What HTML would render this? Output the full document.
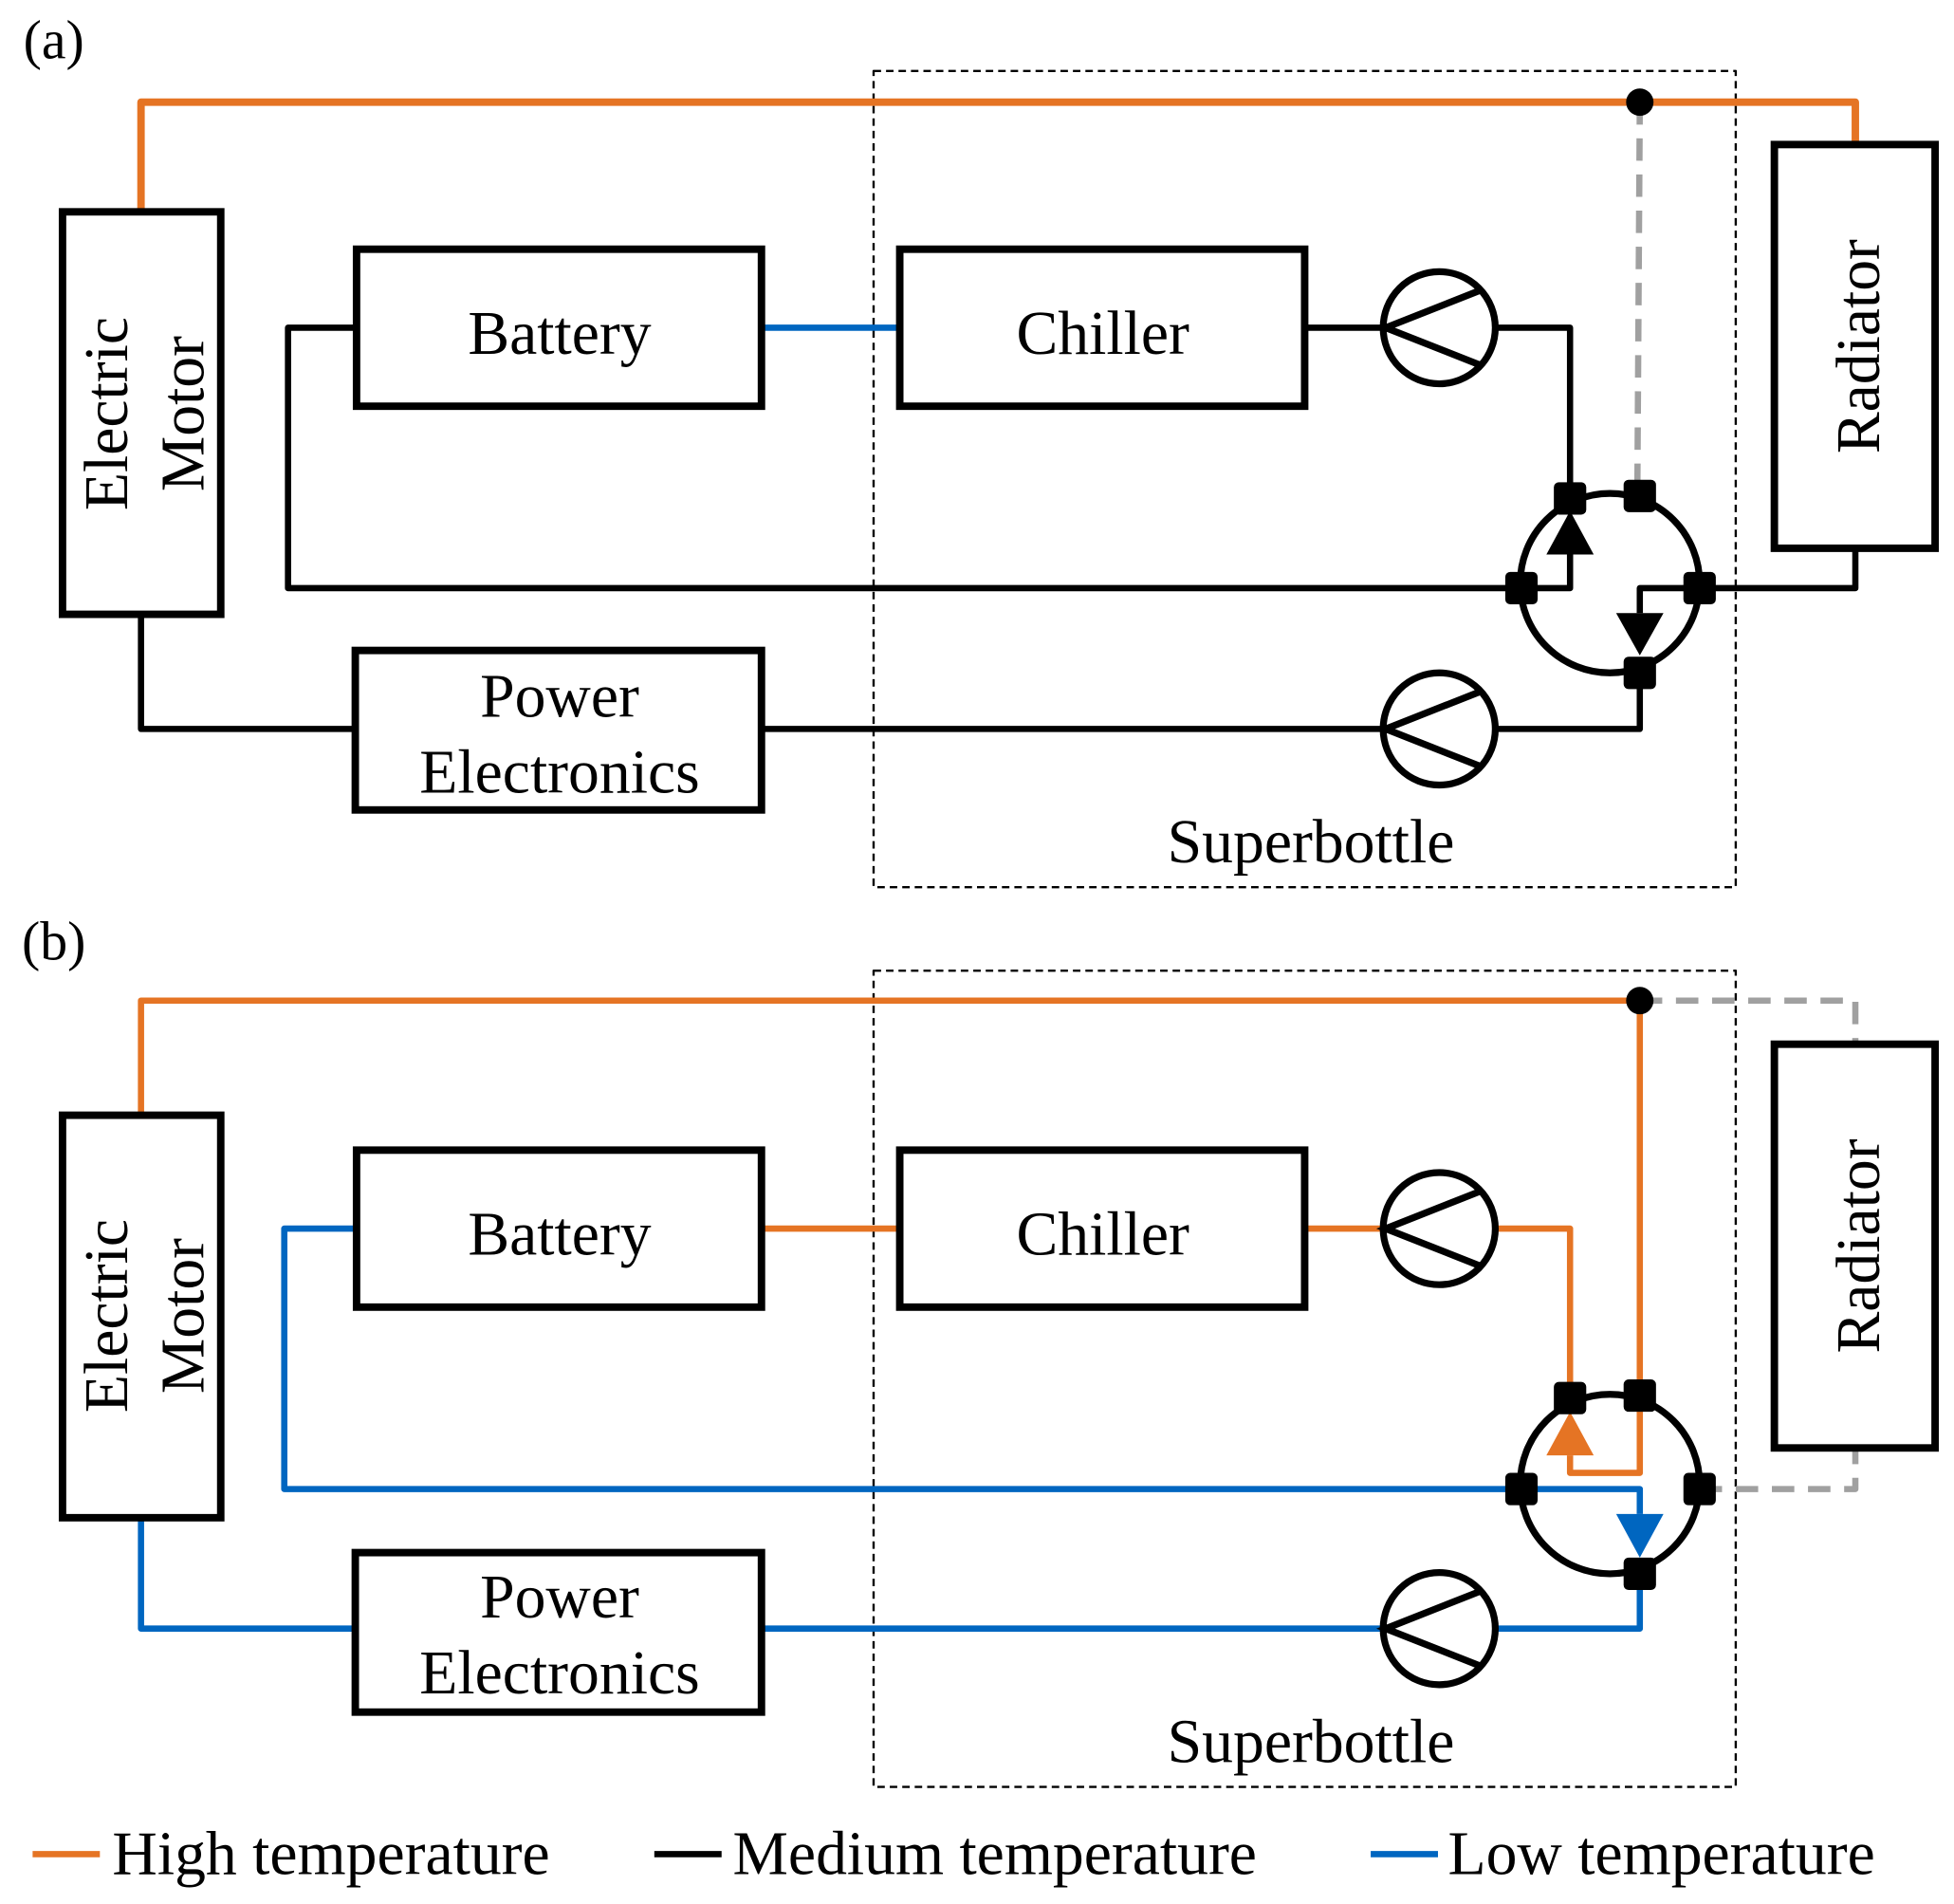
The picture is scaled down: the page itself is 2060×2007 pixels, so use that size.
<!DOCTYPE html>
<html><head><meta charset="utf-8"><style>html,body{margin:0;padding:0;background:#fff}svg{display:block}</style></head>
<body>
<svg width="2060" height="2007" viewBox="0 0 1568 1528" xmlns="http://www.w3.org/2000/svg" font-family="'Liberation Serif', serif">
<defs>
<g id="pump">
<circle cx="0" cy="0" r="45" fill="#fff" stroke="#000" stroke-width="5.5"/>
<path d="M33 -30 L-43 0 L33 30" fill="none" stroke="#000" stroke-width="5.5"/>
</g>
<rect id="port" x="-13" y="-13" width="26" height="26" rx="4" fill="#000"/>
</defs>
<rect width="1568" height="1528" fill="#fff"/>
<g fill="none" stroke-linejoin="round">
<rect x="701" y="57" width="692" height="655" stroke="#000" stroke-width="1.8" stroke-dasharray="6 4"/>
<path d="M113 170 V82 H1489 V116" stroke="#E57424" stroke-width="6"/>
<path d="M1316 82 L1314 398" stroke="#A0A0A0" stroke-width="5" stroke-dasharray="18 11"/>
<path d="M611 263 H722" stroke="#0066C0" stroke-width="5"/>
<g stroke="#000" stroke-width="5">
<path d="M286 263 H231 V472 H1260 V445"/>
<path d="M1047 263 H1110 M1200 263 H1260 V400"/>
<path d="M113 493 V585 H285"/>
<path d="M611 585 H1110 M1200 585 H1316 V540"/>
<path d="M1489 440 V472 H1316 V492"/>
</g>
<circle cx="1292" cy="468" r="72" stroke="#000" stroke-width="5.5"/>
<rect x="701" y="779" width="692" height="655" stroke="#000" stroke-width="1.8" stroke-dasharray="6 4"/>
<path d="M113 893 V803 H1316 V1182 H1260 V1168" stroke="#E57424" stroke-width="5"/>
<path d="M1316 803 H1489 V838 M1364 1195 H1489 V1162" stroke="#A0A0A0" stroke-width="5" stroke-dasharray="18 11"/>
<path d="M611 986 H722 M1047 986 H1110 M1200 986 H1260 V1122" stroke="#E57424" stroke-width="5"/>
<g stroke="#0066C0" stroke-width="5">
<path d="M286 986 H228 V1195 H1316 V1215"/>
<path d="M113 1218 V1307 H285"/>
<path d="M611 1307 H1110 M1200 1307 H1316 V1262"/>
</g>
<circle cx="1292" cy="1191" r="72" stroke="#000" stroke-width="5.5"/>
</g>
<g fill="#fff" stroke="#000" stroke-width="6">
<rect x="50" y="170" width="127" height="323"/>
<rect x="286" y="200" width="325" height="126"/>
<rect x="722" y="200" width="325" height="126"/>
<rect x="285" y="522" width="326" height="128"/>
<rect x="1424" y="116" width="129" height="324"/>
<rect x="50" y="895" width="127" height="323"/>
<rect x="286" y="923" width="325" height="126"/>
<rect x="722" y="923" width="325" height="126"/>
<rect x="285" y="1246" width="326" height="128"/>
<rect x="1424" y="838" width="129" height="324"/>
</g>
<use href="#pump" x="1155" y="263"/>
<use href="#pump" x="1155" y="585"/>
<use href="#pump" x="1155" y="986"/>
<use href="#pump" x="1155" y="1307"/>
<path d="M1260 410 L1279 445 L1241 445 Z" fill="#000"/>
<path d="M1316 526 L1297 492 L1335 492 Z" fill="#000"/>
<path d="M1260 1133 L1279 1168 L1241 1168 Z" fill="#E57424"/>
<path d="M1316 1250 L1297 1215 L1335 1215 Z" fill="#0066C0"/>
<use href="#port" x="1260" y="400"/><use href="#port" x="1316" y="398"/>
<use href="#port" x="1221" y="472"/><use href="#port" x="1364" y="472"/>
<use href="#port" x="1316" y="540"/>
<use href="#port" x="1260" y="1122"/><use href="#port" x="1316" y="1120"/>
<use href="#port" x="1221" y="1195"/><use href="#port" x="1364" y="1195"/>
<use href="#port" x="1316" y="1263"/>
<circle cx="1316" cy="82" r="11" fill="#000"/>
<circle cx="1316" cy="803" r="11" fill="#000"/>
<g font-size="50" fill="#000" text-anchor="middle">
<text x="43" y="47" font-size="44">(a)</text>
<text x="43" y="770" font-size="44">(b)</text>
<text x="449" y="284">Battery</text>
<text x="885" y="284">Chiller</text>
<text x="449" y="575">Power</text>
<text x="449" y="636">Electronics</text>
<text x="1052" y="692">Superbottle</text>
<text transform="translate(102,332) rotate(-90)">Electric</text>
<text transform="translate(163,332) rotate(-90)">Motor</text>
<text transform="translate(1508,278) rotate(-90)">Radiator</text>
<text x="449" y="1007">Battery</text>
<text x="885" y="1007">Chiller</text>
<text x="449" y="1298">Power</text>
<text x="449" y="1359">Electronics</text>
<text x="1052" y="1414">Superbottle</text>
<text transform="translate(102,1056) rotate(-90)">Electric</text>
<text transform="translate(163,1056) rotate(-90)">Motor</text>
<text transform="translate(1508,1000) rotate(-90)">Radiator</text>
</g>
<path d="M26 1488 H80" stroke="#E57424" stroke-width="5"/>
<path d="M525 1488 H579" stroke="#000" stroke-width="5"/>
<path d="M1100 1488 H1154" stroke="#0066C0" stroke-width="5"/>
<g font-size="50" fill="#000">
<text x="90" y="1504">High temperature</text>
<text x="588" y="1504">Medium temperature</text>
<text x="1162" y="1504">Low temperature</text>
</g>
</svg>
</body></html>
